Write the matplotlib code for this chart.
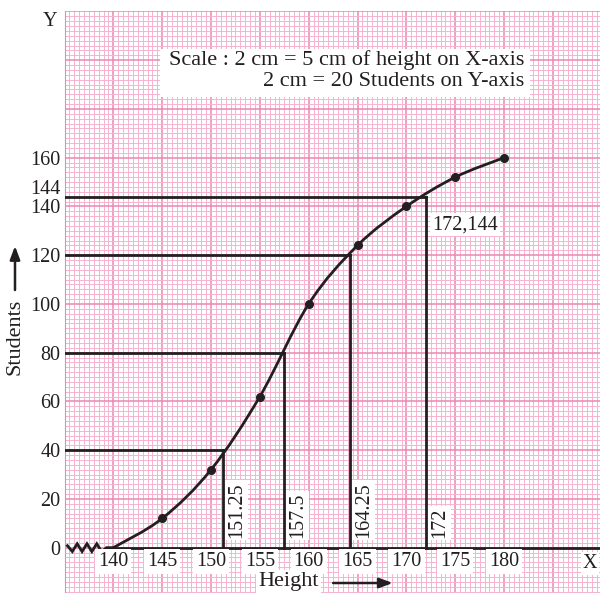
import numpy as np
import matplotlib
matplotlib.use("Agg")
import matplotlib.pyplot as plt
from matplotlib.path import Path
from matplotlib.patches import PathPatch, Rectangle

# Ogive: upper class limits (height, cm) vs cumulative number of students
heights = [140, 145, 150, 155, 160, 165, 170, 175, 180]
cum_students = [0, 12, 32, 62, 100, 124, 140, 152, 160]

# Quartile / percentile readings
read_y = [40, 80, 120, 144]
read_x = [151.25, 157.5, 164.25, 172]
read_labels = ["151.25", "157.5", "164.25", "172"]

x_ticks = [140, 145, 150, 155, 160, 165, 170, 175, 180]
y_ticks = [0, 20, 40, 60, 80, 100, 120, 140, 160]

# Axis break (kink) on the X-axis before 140
kink_x = [135.3, 135.8, 136.3, 136.8, 137.3, 137.8, 138.3, 138.8, 139.3, 140]
kink_y = [0.8, -1.6, 1.6, -1.6, 1.6, -1.6, 1.6, -1.6, 0, 0]

INK = "#231f20"
MINOR = "#f6b3cf"
MAJOR = "#ec86b2"
FONT = "Liberation Serif"
NUM = 14.5   # numbers
WORD = 16.0  # words
plt.rcParams["font.family"] = [FONT, "DejaVu Serif"]

fig = plt.figure(figsize=(6.0, 5.93), dpi=100)
ax = fig.add_axes([64.5 / 600, 0.0, 535.5 / 600, (593 - 11.4) / 593])
x0, x1 = 135.0, 135.0 + 535.5 / 9.769
y0, y1 = -18.6, 220.0
ax.set_xlim(x0, x1)
ax.set_ylim(y0, y1)

# graph paper
for gx in np.arange(135.0, x1, 0.5):
    major = abs(gx / 5 - round(gx / 5)) < 1e-6
    ax.axvline(gx, color=MAJOR if major else MINOR, lw=1.1 if major else 0.7, zorder=0)
for gy in np.arange(-18, y1 + 0.1, 2):
    major = gy % 20 == 0
    ax.axhline(gy, color=MAJOR if major else MINOR, lw=1.1 if major else 0.7, zorder=0)

for s in ax.spines.values():
    s.set_visible(False)
ax.spines["left"].set_visible(True)
ax.spines["left"].set_color(MAJOR)

ax.set_xticks([])
ax.set_yticks(y_ticks)
ax.set_yticklabels([str(v) for v in y_ticks], fontsize=NUM, color=INK)
ax.tick_params(axis="y", length=0, pad=3)
ax.annotate("144", xy=(x0, 144), xytext=(-3, 5), textcoords="offset points",
            ha="right", va="center", fontsize=NUM, color=INK, annotation_clip=False)

# X-axis with break mark
ax.plot(kink_x, kink_y, color=INK, lw=2.0, zorder=3, solid_joinstyle="miter")
ax.plot([140, x1], [0, 0], color=INK, lw=2.0, zorder=3)

# smooth ogive through points (Catmull-Rom as cubic Bezier)
px = np.array(heights, float)
py = np.array(cum_students, float)
verts = [(px[0], py[0])]
codes = [Path.MOVETO]
n = len(px)
for i in range(n - 1):
    p0 = np.array([px[max(i - 1, 0)], py[max(i - 1, 0)]])
    p1 = np.array([px[i], py[i]])
    p2 = np.array([px[i + 1], py[i + 1]])
    p3 = np.array([px[min(i + 2, n - 1)], py[min(i + 2, n - 1)]])
    c1 = p1 + (p2 - p0) / 6
    c2 = p2 - (p3 - p1) / 6
    verts += [tuple(c1), tuple(c2), tuple(p2)]
    codes += [Path.CURVE4] * 3
ax.add_patch(PathPatch(Path(verts, codes), fill=False, ec=INK, lw=2.0, zorder=4))
ax.plot(heights[1:], cum_students[1:], "o", color=INK, ms=5.5, zorder=5)

# reading lines
for xv, yv, lab in zip(read_x, read_y, read_labels):
    ax.plot([x0, xv], [yv, yv], color=INK, lw=2.0, zorder=3)
    ax.plot([xv, xv], [0, yv], color=INK, lw=2.0, zorder=3)
    ax.annotate(lab, xy=(xv, 4.0), xytext=(3, 0), textcoords="offset points",
                rotation=90, ha="left", va="bottom", fontsize=NUM, color=INK,
                bbox=dict(boxstyle="square,pad=0.1", fc="white", ec="none"), zorder=6)

ax.text(172.6, 132.4, "172,144", ha="left", va="center", fontsize=NUM, color=INK,
        bbox=dict(boxstyle="square,pad=0.1", fc="white", ec="none"), zorder=6)

# x tick labels on the paper
for xv in x_ticks:
    ax.text(xv, -5.6, str(xv), ha="center", va="center", fontsize=NUM, color=INK,
            bbox=dict(boxstyle="square,pad=0.15", fc="white", ec="none"), zorder=6)
ax.text(188.8, -6.3, "X", ha="center", va="center", fontsize=NUM, color=INK,
        bbox=dict(boxstyle="square,pad=0.1", fc="white", ec="none"), zorder=6)

ax.text(157.9, -13.9, "Height", ha="center", va="center", fontsize=WORD, color=INK,
        bbox=dict(boxstyle="square,pad=0.1", fc="white", ec="none"), zorder=6)
ax.annotate("", xy=(168.6, -14.5), xytext=(162.5, -14.5),
            arrowprops=dict(arrowstyle="-|>,head_length=0.8,head_width=0.3",
                            color=INK, lw=1.8, shrinkA=0, shrinkB=0), zorder=6)

# scale note
ax.add_patch(Rectangle((144.8, 184.9), 182.7 - 144.8, 204.6 - 184.9,
                       fc="white", ec="none", zorder=5))
ax.text(182.1, 200.1, "Scale : 2 cm = 5 cm of height on X-axis", ha="right", va="center",
        fontsize=WORD, color=INK, zorder=6)
ax.text(182.1, 191.1, "2 cm = 20 Students on Y-axis", ha="right", va="center",
        fontsize=WORD, color=INK, zorder=6)

# figure-level labels
fig.text(50 / 600, 1 - 22 / 593, "Y", ha="center", va="center", fontsize=NUM, color=INK)
fig.text(15 / 600, 1 - 337 / 593, "Students", ha="center", va="center", rotation=90,
         fontsize=WORD, color=INK)
ax.annotate("", xy=(15 / 600, 1 - 246 / 593), xycoords="figure fraction",
            xytext=(15 / 600, 1 - 290 / 593), textcoords="figure fraction",
            arrowprops=dict(arrowstyle="-|>,head_length=0.8,head_width=0.3",
                            color=INK, lw=1.8, shrinkA=0, shrinkB=0),
            annotation_clip=False)

fig.savefig("out.png", dpi=100)
